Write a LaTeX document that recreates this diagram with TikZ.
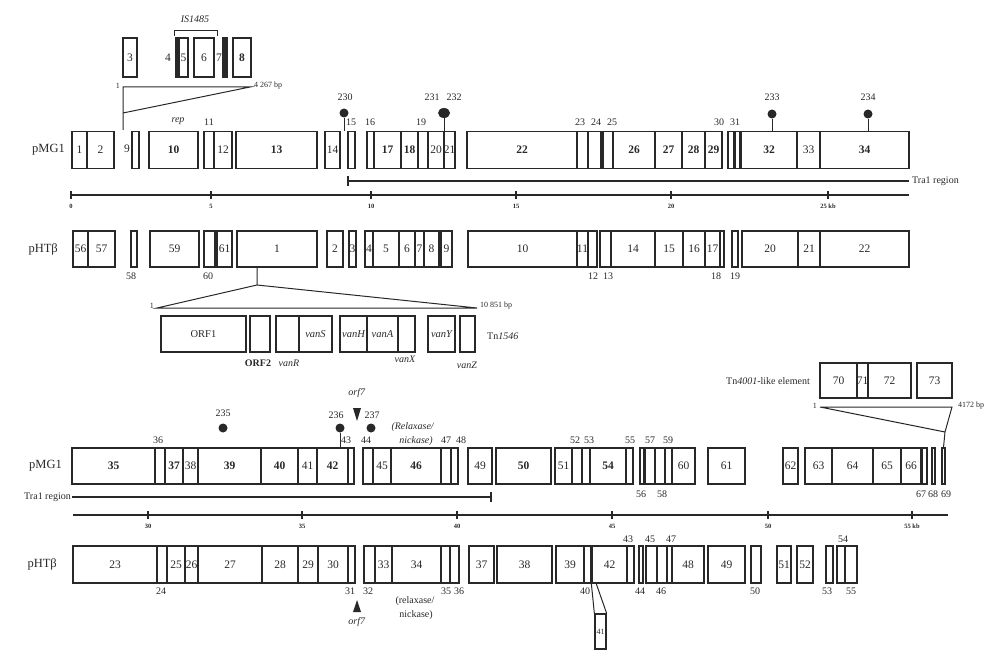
\documentclass[tikz,border=0pt]{standalone}
\usepackage{fontspec}
\setmainfont{Liberation Serif}
\usetikzlibrary{arrows.meta,positioning,shapes.geometric}
\definecolor{mapink}{RGB}{40,40,40}

\tikzset{
  gene/.style={draw=mapink, line width=1.3pt, inner sep=0pt, rectangle},
  genetxt/.style={font=\fontsize{11.5}{12}\selectfont, text=mapink, inner sep=0pt},
  numtxt/.style={font=\fontsize{10}{11}\selectfont, text=mapink, inner sep=0pt},
  kbtxt/.style={font=\fontsize{6.5}{7}\selectfont\bfseries, text=mapink, inner sep=0pt},
  bptxt/.style={font=\fontsize{8}{9}\selectfont, text=mapink, inner sep=0pt},
  rowname/.style={font=\fontsize{12.5}{13}\selectfont, text=mapink, inner sep=0pt},
  lolli/.style={circle, fill=mapink, inner sep=0pt, minimum size=9pt},
  mapline/.style={draw=mapink, line width=1.8pt},
  thinline/.style={draw=mapink, line width=1pt},
}

\begin{document}
\begin{tikzpicture}[x=1pt, y=-1pt]
\useasboundingbox (0,0) rectangle (991,650);

% pMG1, 0-25 kb
\node[rowname, anchor=east] (pmg1a) at (65,150) {pMG1};
\foreach \gn/\xa/\xb/\gl in {1/72/87/1, 2/87/114/2, 9/132/139/{}, 10/149/198/{\bfseries 10},
  11/204/214/{}, 12/214/232/12, 13/236/317/{\bfseries 13}, 14/325/340/14, 15/348/355/{},
  16/367/374/{}, 17/374/401/{\bfseries 17}, 18/401/418/{\bfseries 18}, 19/418/428/{},
  20/428/444/20, 21/444/455/21, 22/467/577/{\bfseries 22}, 23/577/588/{}, 24/588/601/{},
  25/603/613/{}, 26/613/655/{\bfseries 26}, 27/655/682/{\bfseries 27}, 28/682/705/{\bfseries 28},
  29/705/722/{\bfseries 29}, 30/728/734/{}, 31/735/740/{}, 32/741/797/{\bfseries 32},
  33/797/820/33, 34/820/909/{\bfseries 34}} {
  \node[gene, minimum width={(\xb-\xa)*1pt}, minimum height=37pt] (a\gn) at ({(\xa+\xb)/2},150) {};
  \node[genetxt] at (a\gn) {\gl};
}
\node[genetxt] (a9lab) at (127,149) {9};
\foreach \x/\gl in {209/11, 351/15, 370/16, 421/19, 580/23, 596/24, 612/25, 719/30, 735/31}
  \node[numtxt] (na\gl) at (\x,122) {\gl};
\node[numtxt] (rep) at (178,121) {\textit{rep}};

% lollipops on pMG1
\node[lolli] (p230) at (344,113) {};
\node[numtxt] (l230) at (345,97) {230};
\node[ellipse, fill=mapink, inner sep=0pt, minimum width=12pt, minimum height=10pt] (p231) at (444,113) {};
\node[numtxt] (l231) at (432,97) {231};
\node[numtxt] (l232) at (454,97) {232};
\node[lolli] (p233) at (772,114) {};
\node[numtxt] (l233) at (772,97) {233};
\node[lolli] (p234) at (868,114) {};
\node[numtxt] (l234) at (868,97) {234};
\draw[thinline] (p230) -- (p230 |- a14.north);
\draw[thinline] (p231) -- (p231 |- a20.north);
\draw[thinline] (p233) -- (p233 |- a32.north);
\draw[thinline] (p234) -- (p234 |- a34.north);

% IS1485 insert
\foreach \gn/\xa/\xb/\gl in {3/123/137/3, 4/176/179/{}, 5/179/188/5, 6/194/214/6, 7/223/227/{}, 8/233/251/{\bfseries 8}} {
  \node[gene, minimum width={(\xb-\xa)*1pt}, minimum height=39pt] (i\gn) at ({(\xa+\xb)/2},57.5) {};
  \node[genetxt] at (i\gn) {\gl};
}
\fill[mapink] (i4.north west) rectangle (i4.south east);
\fill[mapink] (i7.north west) rectangle (i7.south east);
\node[genetxt] (i4lab) at (168,58) {4};
\node[genetxt] (i7lab) at (219,58) {7};
\draw[thinline] (174,36) -- (174,31) -- (217,31) -- (217,36);
\node[numtxt] (isname) at (195,19) {\textit{IS1485}};
\coordinate (isin) at (123,130);
\coordinate (isapex) at (123,113);
\coordinate (isleft) at (123,87);
\coordinate (isright) at (250,87);
\draw[thinline] (isin) -- (isleft) -- (isright) -- (isapex);
\node[bptxt, anchor=east] (is1) at (120,86) {1};
\node[bptxt, anchor=west] (isend) at (254,86) {4 267 bp};

% Tra1 region and scale, 0-25 kb
\draw[mapline] (348,176) -- (348,186);
\draw[mapline] (348,181) -- (909,181);
\node[numtxt, anchor=west] (tra1a) at (912,181) {Tra1 region};
\draw[mapline] (71,195) -- (909,195);
\foreach \x/\gl in {71/0, 211/5, 371/10, 516/15, 671/20, 828/{25 kb}} {
  \draw[mapline] (\x,191) -- (\x,199);
  \node[kbtxt] at (\x,206) {\gl};
}

% pHTbeta, first part
\node[rowname, anchor=east] (phta) at (58,249) {pHTβ};
\foreach \gn/\xa/\xb/\gl in {56/73/88/56, 57/88/115/57, 58/131/137/{}, 59/150/199/59, 60/204/215/{},
  61/217/232/61, 1/237/317/1, 2/327/343/2, 3/349/356/3, 4/365/373/4, 5/373/399/5, 6/399/415/6,
  7/415/424/7, 8/424/439/8, 9/441/452/9, 10/468/577/10, 11/577/588/11, 12/588/597/{},
  13/600/611/{}, 14/611/655/14, 15/655/683/15, 16/683/705/16, 17/705/720/17, 18/720/724/{},
  19/732/738/{}, 20/742/798/20, 21/798/820/21, 22/820/909/22} {
  \node[gene, minimum width={(\xb-\xa)*1pt}, minimum height=36pt] (b\gn) at ({(\xa+\xb)/2},249) {};
  \node[genetxt] at (b\gn) {\gl};
}
\foreach \x/\gl in {131/58, 208/60, 593/12, 608/13, 716/18, 735/19}
  \node[numtxt] (nb\gl) at (\x,276) {\gl};

% Tn1546 insert
\coordinate (tnapex) at (257,285);
\coordinate (tnleft) at (157,308);
\coordinate (tnright) at (477,308);
\draw[thinline] (b1.south -| tnapex) -- (tnapex) -- (tnleft) -- (tnright) -- (tnapex);
\node[bptxt, anchor=east] (tn1) at (154,306) {1};
\node[bptxt, anchor=west] (tnend) at (480,306) {10 851 bp};
\foreach \gn/\xa/\xb/\gl in {ORF1/161/246/ORF1, ORF2/250/270/{}, vanR/276/299/{}, vanS/299/332/{\itshape vanS},
  vanH/340/367/{\itshape vanH}, vanA/367/398/{\itshape vanA}, vanX/398/415/{}, vanY/428/455/{\itshape vanY},
  vanZ/460/475/{}} {
  \node[gene, minimum width={(\xb-\xa)*1pt}, minimum height=36pt] (t\gn) at ({(\xa+\xb)/2},334) {};
  \node[genetxt, font=\fontsize{10.5}{11}\selectfont] at (t\gn) {\gl};
}
\node[numtxt] (lorf2) at (258,363) {\textbf{ORF2}};
\node[numtxt] (lvanr) at (289,363) {\textit{vanR}};
\node[numtxt] (lvanx) at (405,359) {\textit{vanX}};
\node[numtxt] (lvanz) at (467,365) {\textit{vanZ}};
\node[numtxt, anchor=west] (tnname) at (487,336) {Tn\textit{1546}};

% Tn4001-like element
\foreach \gn/\xa/\xb/\gl in {70/820/857/70, 71/857/868/71, 72/868/911/72, 73/917/952/73} {
  \node[gene, minimum width={(\xb-\xa)*1pt}, minimum height=35pt] (e\gn) at ({(\xa+\xb)/2},380.5) {};
  \node[genetxt] at (e\gn) {\gl};
}
\node[numtxt, anchor=east] (tn4name) at (810,381) {Tn\textit{4001}-like element};

% pMG1, 25-57 kb
\node[rowname, anchor=east] (pmg1b) at (62,466) {pMG1};
\foreach \gn/\xa/\xb/\gl in {35/72/155/{\bfseries 35}, 36/155/165/{}, 37/165/183/{\bfseries 37}, 38/183/198/38,
  39/198/261/{\bfseries 39}, 40/261/298/{\bfseries 40}, 41/298/317/41, 42/317/348/{\bfseries 42},
  43/348/354/{}, 44/363/373/{}, 45/373/391/45, 46/391/441/{\bfseries 46}, 47/441/451/{},
  48/451/458/{}, 49/468/492/49, 50/496/551/{\bfseries 50}, 51/555/572/51, 52/572/582/{},
  53/582/590/{}, 54/590/626/{\bfseries 54}, 55/626/633/{}, 56/640/644/{}, 57/645/655/{},
  58/655/665/{}, 59/665/672/{}, 60/672/695/60, 61/708/745/61, 62/783/798/62, 63/805/832/63,
  64/832/873/64, 65/873/901/65, 66/901/921/66, 67/922/927/{}, 68/932/935/{}, 69/942/945/{}} {
  \node[gene, minimum width={(\xb-\xa)*1pt}, minimum height=36pt] (c\gn) at ({(\xa+\xb)/2},466) {};
  \node[genetxt] at (c\gn) {\gl};
}
\foreach \x/\gl in {158/36, 346/43, 366/44, 446/47, 461/48, 575/52, 589/53, 630/55, 650/57, 668/59}
  \node[numtxt] (nc\gl) at (\x,440) {\gl};
\foreach \x/\gl in {641/56, 662/58, 921/67, 933/68, 946/69}
  \node[numtxt] (mc\gl) at (\x,494) {\gl};
\node[numtxt] (relaxa) at (413,427) {\textit{(Relaxase/}};
\node[numtxt] (nicka) at (416,441) {\textit{nickase)}};

% lollipops and orf7 on pMG1
\node[lolli] (p235) at (223,428) {};
\node[numtxt] (l235) at (223,413) {235};
\node[lolli] (p236) at (340,428) {};
\node[numtxt] (l236) at (336,415) {236};
\node[lolli] (p237) at (371,428) {};
\node[numtxt] (l237) at (372,415) {237};
\draw[thinline] (p236) -- (p236 |- c42.north);
\fill[mapink] (353,408) -- (361,408) -- (357,421) -- cycle;
\node[numtxt] (orfa) at (357,393) {\textit{orf7}};

% Tn4001 expansion
\coordinate (tn4apex) at (945,432);
\coordinate (tn4left) at (820,407);
\coordinate (tn4right) at (952,407);
\draw[thinline] (c69.north) -- (tn4apex) -- (tn4left) -- (tn4right) -- (tn4apex);
\node[bptxt, anchor=east] (tn41) at (817,406) {1};
\node[bptxt, anchor=west] (tn4end) at (958,406) {4172 bp};

% Tra1 region and scale, 25-57 kb
\draw[mapline] (72,497) -- (491,497);
\draw[mapline] (491,492) -- (491,502);
\node[numtxt, anchor=east] (tra1b) at (71,497) {Tra1 region};
\draw[mapline] (73,515) -- (948,515);
\foreach \x/\gl in {148/30, 302/35, 457/40, 612/45, 768/50, 912/{55 kb}} {
  \draw[mapline] (\x,511) -- (\x,519);
  \node[kbtxt] at (\x,526) {\gl};
}

% pHTbeta, second part
\node[rowname, anchor=east] (phtb) at (57,564.5) {pHTβ};
\foreach \gn/\xa/\xb/\gl in {23/73/157/23, 24/157/167/{}, 25/167/185/25, 26/185/198/26, 27/198/262/27,
  28/262/298/28, 29/298/318/29, 30/318/348/30, 31/348/355/{}, 32/364/375/{}, 33/375/392/33,
  34/392/441/34, 35/441/450/{}, 36/450/459/{}, 37/469/494/37, 38/497/552/38, 39/556/584/39,
  40/584/591/{}, 42/592/627/42, 43/627/634/{}, 44/639/643/{}, 45/646/657/{}, 46/657/667/{},
  47/667/672/{}, 48/672/704/48, 49/708/745/49, 50/751/761/{}, 51/777/791/51, 52/797/813/52,
  53/826/833/{}, 54/837/845/{}, 55/845/857/{}} {
  \node[gene, minimum width={(\xb-\xa)*1pt}, minimum height=37pt] (d\gn) at ({(\xa+\xb)/2},564.5) {};
  \node[genetxt] at (d\gn) {\gl};
}
\foreach \x/\gl in {161/24, 350/31, 368/32, 446/35, 459/36, 585/40, 640/44, 661/46, 755/50, 827/53, 851/55}
  \node[numtxt] (nd\gl) at (\x,591) {\gl};
\foreach \x/\gl in {628/43, 650/45, 671/47, 843/54}
  \node[numtxt] (md\gl) at (\x,539) {\gl};
\node[numtxt] (relaxb) at (415,601) {(relaxase/};
\node[numtxt] (nickb) at (416,615) {nickase)};
\fill[mapink] (353,612) -- (361,612) -- (357,600) -- cycle;
\node[numtxt] (orfb) at (357,622) {\textit{orf7}};

% gene 41 shown below
\node[gene, minimum width=11pt, minimum height=35pt] (d41) at (600.5,631.5) {};
\node[numtxt, font=\fontsize{8}{9}\selectfont] at (d41) {41};
\coordinate (d41top) at (596,583);
\draw[thinline] (d42.south west) -- (d41.north west);
\draw[thinline] (d41top) -- (d41.north east);
\end{tikzpicture}
\end{document}
